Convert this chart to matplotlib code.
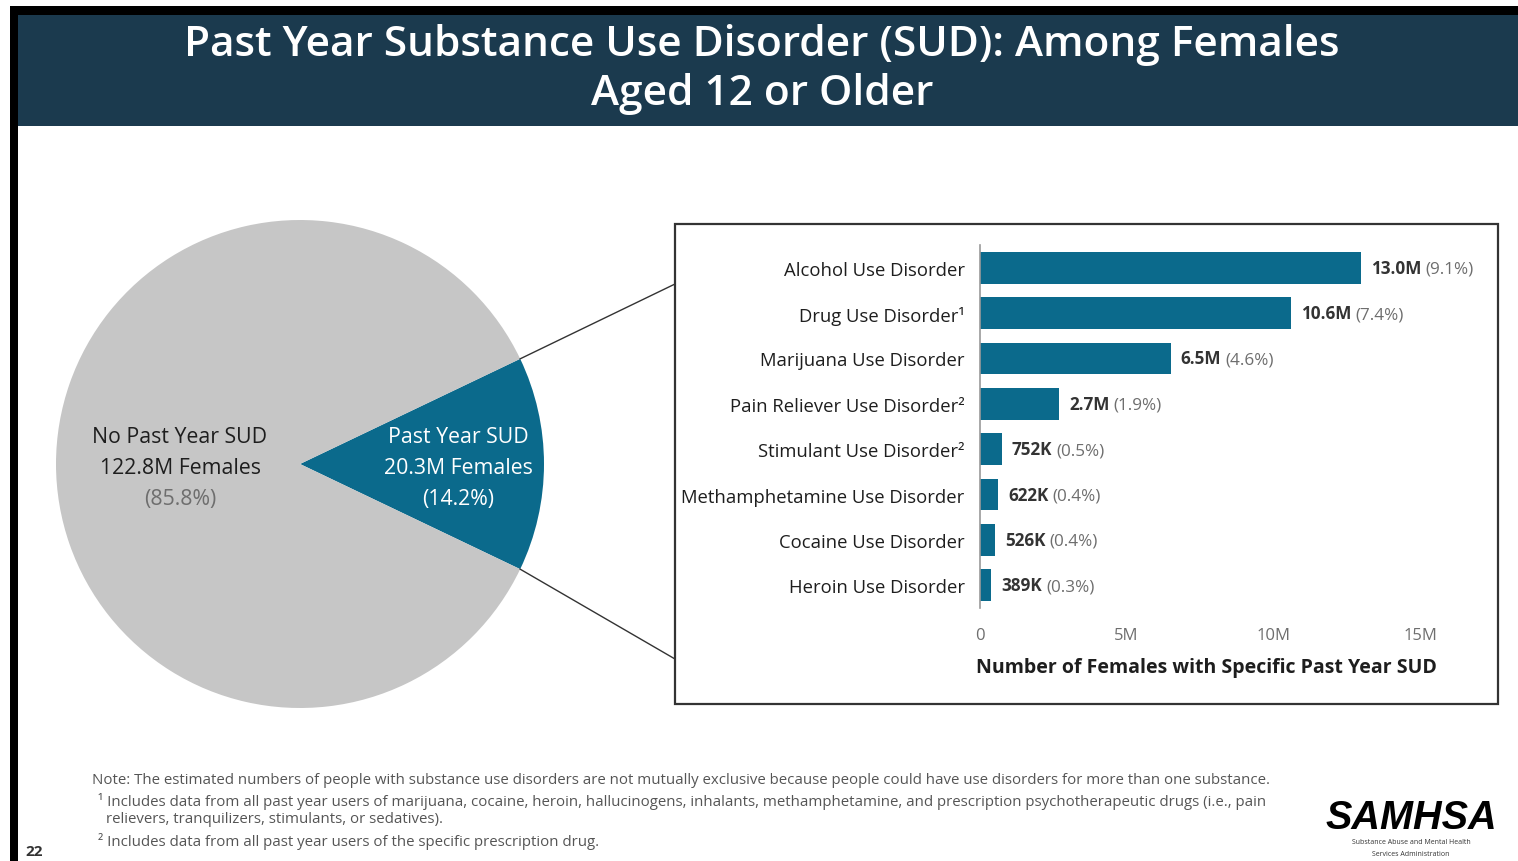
import matplotlib
matplotlib.use("Agg")
import matplotlib.pyplot as plt
from matplotlib.patches import Rectangle
from matplotlib.lines import Line2D
import numpy as np

plt.rcParams['font.family'] = ['Open Sans', 'DejaVu Sans']

# pie: overall split among females 12+
pie_labels = ["Past Year SUD", "No Past Year SUD"]
pie_counts = ["20.3M", "122.8M"]
pie_values = [20.3, 122.8]
pie_pcts = ["14.2%", "85.8%"]

# bar: specific disorders (millions)
disorders = ["Alcohol Use Disorder", "Drug Use Disorder\u00b9", "Marijuana Use Disorder",
             "Pain Reliever Use Disorder\u00b2", "Stimulant Use Disorder\u00b2",
             "Methamphetamine Use Disorder", "Cocaine Use Disorder", "Heroin Use Disorder"]
counts = [13.0, 10.6, 6.5, 2.7, 0.752, 0.622, 0.526, 0.389]
count_labels = ["13.0M", "10.6M", "6.5M", "2.7M", "752K", "622K", "526K", "389K"]
pct_labels = ["(9.1%)", "(7.4%)", "(4.6%)", "(1.9%)", "(0.5%)", "(0.4%)", "(0.4%)", "(0.3%)"]
xticks = [0, 5, 10, 15]
xtick_labels = ["0", "5M", "10M", "15M"]

NAVY = "#1b3a4e"
TEAL = "#0b6a8c"
GRAY = "#c6c6c6"
TXT = "#1e1e1e"
MUTED = "#6e6e6e"

W, H = 1518, 862
fig = plt.figure(figsize=(W / 100, H / 100), dpi=100)
fig.patch.set_facecolor("white")


def fx(px):
    return px / W


def fy(py):
    return 1 - py / H


def box(x0, y0, x1, y1):
    return [fx(x0), fy(y1), fx(x1) - fx(x0), fy(y0) - fy(y1)]


# frame and title banner
fig.add_artist(Rectangle((fx(10), fy(16)), 1 - fx(10), fy(7) - fy(16),
                         transform=fig.transFigure, color="black", lw=0))
fig.add_artist(Rectangle((fx(10), 0), fx(18) - fx(10), fy(7),
                         transform=fig.transFigure, color="black", lw=0))
fig.add_artist(Rectangle((fx(18), fy(127)), 1 - fx(18), fy(16) - fy(127),
                         transform=fig.transFigure, color=NAVY, lw=0))
fig.text(fx(762), fy(45), "Past Year Substance Use Disorder (SUD): Among Females",
         color="white", fontsize=30.5, fontweight="semibold", ha="center", va="center")
fig.text(fx(762), fy(94), "Aged 12 or Older",
         color="white", fontsize=30.5, fontweight="semibold", ha="center", va="center")

# pie
cx, cy, r = 300, 465, 244
pax = fig.add_axes(box(cx - r, cy - r, cx + r, cy + r))
frac = pie_values[0] / sum(pie_values)
half = frac * 360 / 2
pax.pie(pie_values, colors=[TEAL, GRAY], startangle=-half, counterclock=True,
        radius=1, wedgeprops=dict(linewidth=0))
pax.set_xlim(-1, 1)
pax.set_ylim(-1, 1)
pax.set_aspect("equal")
pax.axis("off")

fs_pie = 15.3
for dy, txt, col in [(-31, pie_labels[0], "white"), (0, pie_counts[0] + " Females", "white"),
                     (31, "(" + pie_pcts[0] + ")", "white")]:
    fig.text(fx(458), fy(469 + dy), txt, color=col, fontsize=fs_pie, ha="center", va="center")
for dy, txt, col in [(-31, pie_labels[1], TXT), (0, pie_counts[1] + " Females", TXT),
                     (31, "(" + pie_pcts[1] + ")", MUTED)]:
    fig.text(fx(180), fy(469 + dy), txt, color=col, fontsize=fs_pie, ha="center", va="center")

# connectors from wedge edges to the detail box
th = np.radians(half)
p_top = (cx + r * np.cos(th), cy - r * np.sin(th))
p_bot = (cx + r * np.cos(th), cy + r * np.sin(th))
for (x0, y0), (x1, y1) in [(p_top, (675, 285)), (p_bot, (675, 660))]:
    fig.add_artist(Line2D([fx(x0), fx(x1)], [fy(y0), fy(y1)], transform=fig.transFigure,
                          color="#333333", lw=1.0))

# detail box
fig.add_artist(Rectangle((fx(675), fy(705)), fx(1498) - fx(675), fy(225) - fy(705),
                         transform=fig.transFigure, fill=False, edgecolor="#333333", lw=1.6))

# bars
ax = fig.add_axes(box(980, 246, 1420, 609))
y = np.arange(len(disorders))
ax.barh(y, counts, height=0.7, color=TEAL)
ax.set_ylim(len(disorders) - 0.5, -0.5)
ax.set_xlim(0, 15)
ax.set_yticks(y)
ax.set_yticklabels(disorders, fontsize=13.3, color=TXT)
ax.set_xticks(xticks)
ax.set_xticklabels(xtick_labels, fontsize=12, color=MUTED)
ax.tick_params(axis="y", length=0, pad=11)
ax.tick_params(axis="x", length=0, pad=14)
for s in ["top", "right", "bottom"]:
    ax.spines[s].set_visible(False)
ax.spines["left"].set_color("#9a9a9a")
ax.spines["left"].set_linewidth(1.2)
ax.patch.set_alpha(0)

for i, (v, cl, pl) in enumerate(zip(counts, count_labels, pct_labels)):
    t = ax.annotate(cl, xy=(v, i), xytext=(7, 0), textcoords="offset points",
                    fontsize=12.3, fontweight="bold", color="#333333", ha="left", va="center")
    ax.annotate(pl, xy=(1, 0), xycoords=t, xytext=(3, 0), textcoords="offset points",
                fontsize=12.3, color=MUTED, ha="left", va="bottom")

fig.text(fx(1206), fy(668), "Number of Females with Specific Past Year SUD",
         fontsize=14, fontweight="bold", color=TXT, ha="center", va="center")

# footnotes
fn = 10.8
fig.text(fx(92), fy(780), "Note: The estimated numbers of people with substance use disorders are not "
         "mutually exclusive because people could have use disorders for more than one substance.",
         fontsize=fn, color="#555555", ha="left", va="center")
fig.text(fx(98), fy(802), "\u00b9 Includes data from all past year users of marijuana, cocaine, heroin, "
         "hallucinogens, inhalants, methamphetamine, and prescription psychotherapeutic drugs (i.e., pain",
         fontsize=fn, color="#555555", ha="left", va="center")
fig.text(fx(106), fy(820), "relievers, tranquilizers, stimulants, or sedatives).",
         fontsize=fn, color="#555555", ha="left", va="center")
fig.text(fx(98), fy(842), "\u00b2 Includes data from all past year users of the specific prescription drug.",
         fontsize=fn, color="#555555", ha="left", va="center")

fig.text(fx(25), fy(852), "22", fontsize=11, fontweight="bold", color="#333333",
         ha="left", va="center")

# agency mark
fig.text(fx(1411), fy(818), "SAMHSA", fontsize=28.5, fontweight="bold", fontstyle="italic",
         family=["Liberation Sans", "DejaVu Sans"], color="black", ha="center", va="center")
fig.text(fx(1411), fy(843), "Substance Abuse and Mental Health", fontsize=5, color="#333333",
         ha="center", va="center")
fig.text(fx(1411), fy(855), "Services Administration", fontsize=5, color="#333333",
         ha="center", va="center")

fig.savefig("out.png", dpi=100)
